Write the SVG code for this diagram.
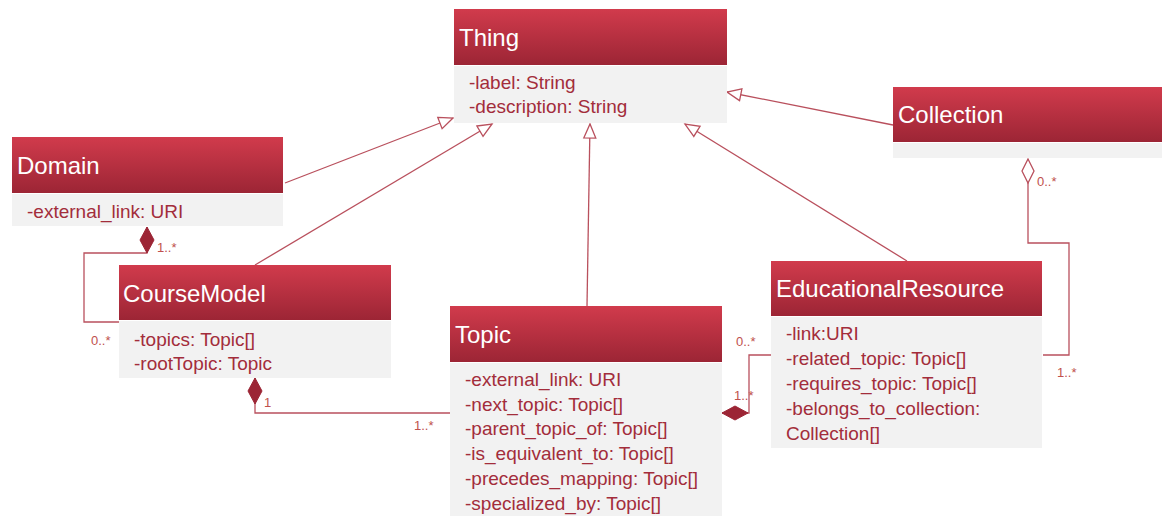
<svg xmlns="http://www.w3.org/2000/svg" width="1162" height="516" viewBox="0 0 1162 516">
  <defs>
    <linearGradient id="hdr" x1="0" y1="0" x2="0" y2="1">
      <stop offset="0" stop-color="#d13b4c"/>
      <stop offset="1" stop-color="#9c2535"/>
    </linearGradient>
    <!-- hollow triangle for generalization -->
    <marker id="gen" markerUnits="userSpaceOnUse" markerWidth="18" markerHeight="16" viewBox="-16 -8 18 16" refX="0" refY="0" orient="auto">
      <path d="M-14,-6 L0,0 L-14,6 z" fill="#ffffff" stroke="#b9505d" stroke-width="1.3"/>
    </marker>
    <!-- filled diamond for composition -->
    <marker id="comp" markerUnits="userSpaceOnUse" markerWidth="30" markerHeight="18" viewBox="-1 -9 30 18" refX="0" refY="0" orient="auto">
      <path d="M0,0 L13,-7 L26,0 L13,7 z" fill="#9c2535" stroke="#9c2535" stroke-width="1"/>
    </marker>
    <!-- hollow diamond for aggregation -->
    <marker id="aggr" markerUnits="userSpaceOnUse" markerWidth="28" markerHeight="16" viewBox="-1 -8 28 16" refX="0" refY="0" orient="auto">
      <path d="M0,0 L12,-6 L24,0 L12,6 z" fill="#ffffff" stroke="#b9505d" stroke-width="1.3"/>
    </marker>
  </defs>
  <style>
    .head { fill: url(#hdr); }
    .body { fill: #f2f2f2; }
    .title { font-family: "Liberation Sans", Arial, sans-serif; font-size: 24px; fill: #ffffff; }
    .attr { font-family: "Liberation Sans", Arial, sans-serif; font-size: 19px; fill: #a32d3b; }
    .mult { font-family: "Liberation Sans", Arial, sans-serif; font-size: 13px; fill: #c0504d; }
    .line { fill: none; stroke: #b9505d; stroke-width: 1.3; }
  </style>

  <rect width="1162" height="516" fill="#ffffff"/>

  <!-- connectors -->
  <g id="connectors">
    <path class="line" d="M285,183 L453,118" marker-end="url(#gen)"/>
    <path class="line" d="M255,265 L492,124" marker-end="url(#gen)"/>
    <path class="line" d="M587,306 L590,124" marker-end="url(#gen)"/>
    <path class="line" d="M907,261 L685,124" marker-end="url(#gen)"/>
    <path class="line" d="M893,125 L727,92" marker-end="url(#gen)"/>

    <path class="line" d="M147,227 L147,253 L84,253 L84,322 L119,322" marker-start="url(#comp)"/>
    <path class="line" d="M255,378 L255,413 L450,413" marker-start="url(#comp)"/>
    <path class="line" d="M722,413 L749,413 L749,355 L771,355" marker-start="url(#comp)"/>
    <path class="line" d="M1028,159 L1028,243 L1069,243 L1069,355 L1043,355" marker-start="url(#aggr)"/>

    <text class="mult" x="157" y="252">1..*</text>
    <text class="mult" x="91" y="345">0..*</text>
    <text class="mult" x="264" y="407">1</text>
    <text class="mult" x="414" y="430">1..*</text>
    <text class="mult" x="736" y="346">0..*</text>
    <text class="mult" x="734" y="400">1..*</text>
    <text class="mult" x="1037" y="186">0..*</text>
    <text class="mult" x="1057" y="377">1..*</text>
  </g>

  <g id="thing">
    <rect class="head" x="454" y="9" width="273" height="56"/>
    <rect class="body" x="454" y="66" width="273" height="57"/>
    <text class="title" x="459" y="46">Thing</text>
    <text class="attr" x="469" y="89">-label: String</text>
    <text class="attr" x="469" y="113">-description: String</text>
  </g>

  <g id="domain">
    <rect class="head" x="12" y="137" width="271" height="56"/>
    <rect class="body" x="12" y="194" width="271" height="32"/>
    <text class="title" x="17" y="174">Domain</text>
    <text class="attr" x="27" y="218">-external_link: URI</text>
  </g>

  <g id="coursemodel">
    <rect class="head" x="119" y="265" width="272" height="55"/>
    <rect class="body" x="119" y="321" width="272" height="57"/>
    <text class="title" x="123" y="302">CourseModel</text>
    <text class="attr" x="134" y="346">-topics: Topic[]</text>
    <text class="attr" x="134" y="370">-rootTopic: Topic</text>
  </g>

  <g id="topic">
    <rect class="head" x="450" y="306" width="272" height="56"/>
    <rect class="body" x="450" y="363" width="272" height="153"/>
    <text class="title" x="455" y="343">Topic</text>
    <text class="attr" x="465" y="386">-external_link: URI</text>
    <text class="attr" x="465" y="411">-next_topic: Topic[]</text>
    <text class="attr" x="465" y="435">-parent_topic_of: Topic[]</text>
    <text class="attr" x="465" y="460">-is_equivalent_to: Topic[]</text>
    <text class="attr" x="465" y="485">-precedes_mapping: Topic[]</text>
    <text class="attr" x="465" y="510">-specialized_by: Topic[]</text>
  </g>

  <g id="educationalresource">
    <rect class="head" x="771" y="261" width="271" height="55"/>
    <rect class="body" x="771" y="317" width="271" height="131"/>
    <text class="title" x="776" y="297">EducationalResource</text>
    <text class="attr" x="786" y="340">-link:URI</text>
    <text class="attr" x="786" y="365">-related_topic: Topic[]</text>
    <text class="attr" x="786" y="390">-requires_topic: Topic[]</text>
    <text class="attr" x="786" y="415">-belongs_to_collection:</text>
    <text class="attr" x="786" y="440">Collection[]</text>
  </g>

  <g id="collection">
    <rect class="head" x="893" y="87" width="269" height="55"/>
    <rect class="body" x="893" y="143" width="269" height="15"/>
    <text class="title" x="898" y="123">Collection</text>
  </g>
</svg>
